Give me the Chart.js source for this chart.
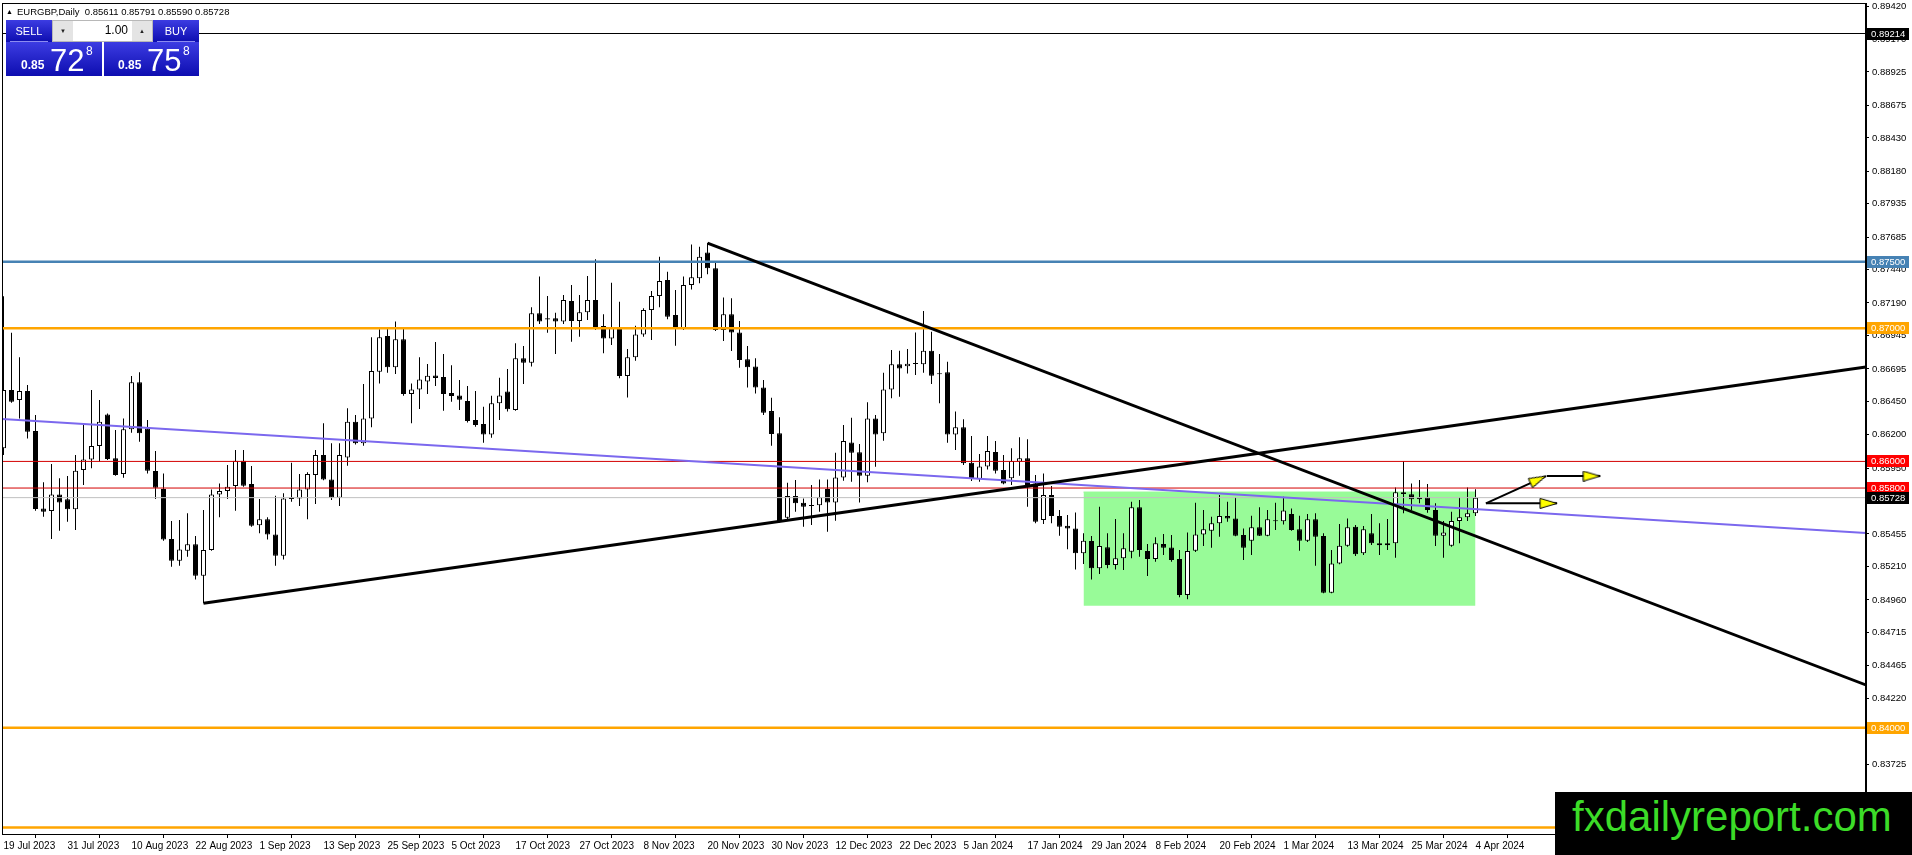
<!DOCTYPE html>
<html>
<head>
<meta charset="utf-8">
<title>EURGBP,Daily</title>
<script src="https://cdn.jsdelivr.net/npm/chart.js@4.4.1/dist/chart.umd.min.js"></script>
<style>
  html, body { margin: 0; padding: 0; background: #fff; overflow: hidden; }
  #wrap { position: relative; width: 1912px; height: 855px; font-family: "Liberation Sans", Arial, sans-serif; }
  #wrap canvas { position: absolute; left: 0; top: 0; }
  .abs { position: absolute; white-space: nowrap; line-height: 1; }
  #header { left: 6px; top: 7px; font-size: 9.5px; color: #000; }
  #header .tri { font-size: 7px; margin-right: 4px; position: relative; top: -1px; }
  .blue { position: absolute; background: linear-gradient(#3c3ce2, #0d0db0); }
  .rule { position: absolute; height: 1px; background: #8c8cf0; }
  .lbl { color: #fff; font-size: 11px; text-align: center; }
  .small { color: #fff; font-size: 12px; font-weight: bold; }
  .big { color: #fff; font-size: 31px; }
  .pip { color: #fff; font-size: 12px; }
  #spin { position: absolute; left: 52px; top: 20px; width: 99px; height: 20px; background: #fff; border: 1px solid #b8b8b8; }
  .btn { position: absolute; top: 0; width: 20px; height: 20px; background: #e4e4e4; font-size: 6px; color: #222; text-align: center; line-height: 20px; }
  #lot { right: 24px; top: 2.5px; font-size: 12px; color: #000; }
  #logo { position: absolute; left: 1555px; top: 792px; width: 357px; height: 63px; background: #000; }
  #logo span { position: absolute; left: 17px; top: 4px; font-size: 42px; line-height: 1; color: #3cdc28; white-space: nowrap; }
</style>
</head>
<body>
<div id="wrap">
  <canvas id="graficoVelas" width="1912" height="855"></canvas>
  <div id="header" class="abs"></div>
  <div id="panel">
    <div class="blue" style="left:6px;top:20px;width:46px;height:22px"></div>
    <div class="blue" style="left:153px;top:20px;width:46px;height:22px"></div>
    <div class="blue" style="left:6px;top:42px;width:96px;height:34px"></div>
    <div class="blue" style="left:104px;top:42px;width:95px;height:34px"></div>
    <div class="rule" style="left:10px;top:41px;width:38px"></div>
    <div class="rule" style="left:157px;top:41px;width:38px"></div>
    <div class="abs lbl" style="left:6px;top:25.5px;width:46px">SELL</div>
    <div class="abs lbl" style="left:153px;top:25.5px;width:46px">BUY</div>
    <div id="spin">
      <div class="btn" style="left:0">&#9660;</div>
      <div id="lot" class="abs">1.00</div>
      <div class="btn" style="right:0">&#9650;</div>
    </div>
    <div id="sellSmall" class="abs small" style="left:21px;top:58.8px"></div>
    <div id="sellBig" class="abs big" style="left:50px;top:44.8px"></div>
    <div id="sellPip" class="abs pip" style="left:86px;top:44.8px"></div>
    <div id="buySmall" class="abs small" style="left:118px;top:58.8px"></div>
    <div id="buyBig" class="abs big" style="left:147px;top:44.8px"></div>
    <div id="buyPip" class="abs pip" style="left:183px;top:44.8px"></div>
  </div>
  <div id="logo"><span>fxdailyreport.com</span></div>
</div>
<script>
// EURGBP diario, 19 Jul 2023 - 4 Apr 2024 (una vela por indice)
const symbol = "EURGBP,Daily";
const bid = 0.85728;
const ask = 0.85758;

const dateLabels = [
  "19 Jul 2023", "31 Jul 2023", "10 Aug 2023", "22 Aug 2023", "1 Sep 2023", "13 Sep 2023",
  "25 Sep 2023", "5 Oct 2023", "17 Oct 2023", "27 Oct 2023", "8 Nov 2023", "20 Nov 2023",
  "30 Nov 2023", "12 Dec 2023", "22 Dec 2023", "5 Jan 2024", "17 Jan 2024", "29 Jan 2024",
  "8 Feb 2024", "20 Feb 2024", "1 Mar 2024", "13 Mar 2024", "25 Mar 2024", "4 Apr 2024",
];
const barsPerLabel = 8;

const priceTicks = [
  0.89420, 0.89170, 0.88925, 0.88675, 0.88430, 0.88180, 0.87935, 0.87685, 0.87440,
  0.87190, 0.86945, 0.86695, 0.86450, 0.86200, 0.85950, 0.85705, 0.85455, 0.85210,
  0.84960, 0.84715, 0.84465, 0.84220, 0.83970, 0.83725, 0.83475, 0.83230,
];

const openPrices = [
  0.86098, 0.86536, 0.86461, 0.86529, 0.86228, 0.85647, 0.85627, 0.85752, 0.85715, 0.85640,
  0.85935, 0.86015, 0.86116, 0.86353, 0.86023, 0.85905, 0.86241, 0.86594, 0.86248, 0.85928,
  0.85792, 0.85417, 0.85254, 0.85329, 0.85377, 0.85142, 0.85334, 0.85752, 0.85778, 0.85815,
  0.86005, 0.85830, 0.85520, 0.85565, 0.85452, 0.85292, 0.85730, 0.85722, 0.85790, 0.85898,
  0.86048, 0.85865, 0.85727, 0.86030, 0.86298, 0.86136, 0.86323, 0.86674, 0.86942, 0.86707,
  0.86917, 0.86506, 0.86541, 0.86601, 0.86646, 0.86634, 0.86514, 0.86496, 0.86454, 0.86311,
  0.86281, 0.86203, 0.86436, 0.86526, 0.86386, 0.86774, 0.86742, 0.87112, 0.87075, 0.87075,
  0.87050, 0.87205, 0.87054, 0.87120, 0.87212, 0.87017, 0.86924, 0.87007, 0.86641, 0.86782,
  0.86954, 0.87137, 0.87242, 0.87363, 0.87100, 0.86999, 0.87325, 0.87375, 0.87570, 0.87450,
  0.86987, 0.87105, 0.86969, 0.86767, 0.86712, 0.86556, 0.86378, 0.86211, 0.85577, 0.85740,
  0.85690, 0.85670, 0.85670, 0.85793, 0.85692, 0.85880, 0.86143, 0.86068, 0.85893, 0.86323,
  0.86211, 0.86541, 0.86729, 0.86714, 0.86739, 0.86729, 0.86832, 0.86661, 0.86669, 0.86203,
  0.86256, 0.85990, 0.85868, 0.85961, 0.86071, 0.85935, 0.85873, 0.85998, 0.86023, 0.85835,
  0.85560, 0.85748, 0.85590, 0.85517, 0.85497, 0.85310, 0.85402, 0.85197, 0.85355, 0.85222,
  0.85272, 0.85322, 0.85655, 0.85327, 0.85267, 0.85380, 0.85354, 0.85267, 0.84997, 0.85329,
  0.85452, 0.85480, 0.85535, 0.85590, 0.85572, 0.85447, 0.85405, 0.85505, 0.85442, 0.85557,
  0.85550, 0.85605, 0.85490, 0.85405, 0.85565, 0.85440, 0.85014, 0.85234, 0.85367, 0.85510,
  0.85310, 0.85460, 0.85385, 0.85370, 0.85385, 0.85768, 0.85753, 0.85715, 0.85730, 0.85635,
  0.85442, 0.85367, 0.85552, 0.85580, 0.85611,
];
const highPrices = [
  0.87240, 0.86967, 0.86782, 0.86574, 0.86348, 0.85843, 0.85980, 0.85873, 0.85890, 0.86048,
  0.86273, 0.86536, 0.86461, 0.86360, 0.86236, 0.86323, 0.86641, 0.86669, 0.86311, 0.86078,
  0.85910, 0.85552, 0.85560, 0.85610, 0.85440, 0.85635, 0.85790, 0.85835, 0.85973, 0.86086,
  0.86086, 0.85965, 0.85717, 0.85580, 0.85742, 0.85760, 0.85990, 0.85905, 0.85918, 0.86086,
  0.86286, 0.86136, 0.86136, 0.86399, 0.86348, 0.86581, 0.86932, 0.86992, 0.87007, 0.87050,
  0.87007, 0.86586, 0.86782, 0.86732, 0.86897, 0.86807, 0.86722, 0.86611, 0.86566, 0.86529,
  0.86411, 0.86494, 0.86629, 0.86694, 0.86887, 0.86867, 0.87157, 0.87388, 0.87242, 0.87117,
  0.87250, 0.87325, 0.87250, 0.87392, 0.87518, 0.87105, 0.87342, 0.87200, 0.86844, 0.87019,
  0.87150, 0.87280, 0.87538, 0.87425, 0.87287, 0.87388, 0.87630, 0.87613, 0.87640, 0.87500,
  0.87232, 0.87225, 0.87054, 0.86867, 0.86774, 0.86611, 0.86479, 0.86331, 0.85840, 0.85860,
  0.85722, 0.85823, 0.85865, 0.85865, 0.86065, 0.86273, 0.86328, 0.86131, 0.86444, 0.86348,
  0.86666, 0.86837, 0.86832, 0.86844, 0.86969, 0.87130, 0.86974, 0.86807, 0.86749, 0.86374,
  0.86316, 0.86191, 0.86056, 0.86191, 0.86153, 0.86048, 0.86098, 0.86181, 0.86166, 0.85898,
  0.85910, 0.85815, 0.85635, 0.85597, 0.85617, 0.85460, 0.85440, 0.85660, 0.85460, 0.85567,
  0.85460, 0.85698, 0.85710, 0.85380, 0.85430, 0.85455, 0.85447, 0.85334, 0.85467, 0.85690,
  0.85635, 0.85585, 0.85748, 0.85698, 0.85730, 0.85497, 0.85592, 0.85655, 0.85635, 0.85690,
  0.85735, 0.85647, 0.85592, 0.85605, 0.85610, 0.85460, 0.85334, 0.85530, 0.85572, 0.85522,
  0.85515, 0.85605, 0.85535, 0.85567, 0.85805, 0.86003, 0.85835, 0.85860, 0.85830, 0.85685,
  0.85552, 0.85622, 0.85730, 0.85805, 0.85791,
];
const lowPrices = [
  0.86048, 0.86440, 0.86323, 0.86173, 0.85630, 0.85585, 0.85417, 0.85480, 0.85547, 0.85485,
  0.85823, 0.85948, 0.85998, 0.86010, 0.85893, 0.85878, 0.86216, 0.86148, 0.85910, 0.85717,
  0.85404, 0.85209, 0.85217, 0.85284, 0.85114, 0.84934, 0.85329, 0.85580, 0.85717, 0.85630,
  0.85810, 0.85510, 0.85460, 0.85414, 0.85217, 0.85264, 0.85697, 0.85665, 0.85565, 0.85680,
  0.85858, 0.85710, 0.85665, 0.85968, 0.86128, 0.86118, 0.86256, 0.86586, 0.86666, 0.86656,
  0.86494, 0.86286, 0.86394, 0.86506, 0.86566, 0.86381, 0.86449, 0.86386, 0.86293, 0.86261,
  0.86141, 0.86178, 0.86311, 0.86374, 0.86381, 0.86581, 0.86712, 0.87032, 0.86967, 0.86807,
  0.87032, 0.86899, 0.86937, 0.87062, 0.86987, 0.86812, 0.86874, 0.86624, 0.86481, 0.86757,
  0.86937, 0.86912, 0.87157, 0.87067, 0.86869, 0.86987, 0.87292, 0.87338, 0.87405, 0.86980,
  0.86904, 0.86829, 0.86704, 0.86556, 0.86511, 0.86348, 0.86118, 0.85542, 0.85567, 0.85622,
  0.85510, 0.85522, 0.85622, 0.85472, 0.85555, 0.85855, 0.85848, 0.85692, 0.85843, 0.85960,
  0.86156, 0.86474, 0.86486, 0.86661, 0.86649, 0.86666, 0.86581, 0.86436, 0.86141, 0.86086,
  0.85973, 0.85853, 0.85848, 0.85940, 0.85910, 0.85828, 0.85823, 0.85893, 0.85660, 0.85535,
  0.85530, 0.85535, 0.85442, 0.85340, 0.85189, 0.85229, 0.85114, 0.85154, 0.85197, 0.85189,
  0.85184, 0.85272, 0.85284, 0.85139, 0.85247, 0.85297, 0.85247, 0.84979, 0.84964, 0.85320,
  0.85365, 0.85352, 0.85435, 0.85547, 0.85438, 0.85259, 0.85297, 0.85440, 0.85438, 0.85485,
  0.85527, 0.85480, 0.85329, 0.85395, 0.85217, 0.85009, 0.85009, 0.85227, 0.85360, 0.85289,
  0.85297, 0.85372, 0.85297, 0.85334, 0.85277, 0.85610, 0.85635, 0.85685, 0.85615, 0.85365,
  0.85277, 0.85360, 0.85385, 0.85552, 0.85590,
];
const closePrices = [
  0.86536, 0.86449, 0.86529, 0.86223, 0.85642, 0.85622, 0.85752, 0.85692, 0.85640, 0.85930,
  0.86015, 0.86116, 0.86298, 0.86018, 0.85898, 0.86241, 0.86594, 0.86211, 0.85930, 0.85803,
  0.85414, 0.85254, 0.85339, 0.85377, 0.85142, 0.85334, 0.85752, 0.85778, 0.85810, 0.86005,
  0.85818, 0.85517, 0.85565, 0.85452, 0.85292, 0.85722, 0.85717, 0.85790, 0.85905, 0.86048,
  0.85865, 0.85727, 0.86048, 0.86298, 0.86136, 0.86323, 0.86679, 0.86932, 0.86707, 0.86917,
  0.86506, 0.86541, 0.86616, 0.86644, 0.86626, 0.86506, 0.86491, 0.86464, 0.86303, 0.86273,
  0.86203, 0.86436, 0.86496, 0.86391, 0.86774, 0.86742, 0.87112, 0.87050, 0.87065, 0.87050,
  0.87212, 0.87054, 0.87120, 0.87212, 0.86999, 0.86924, 0.87007, 0.86641, 0.86782, 0.86954,
  0.87137, 0.87242, 0.87355, 0.87087, 0.86999, 0.87325, 0.87383, 0.87538, 0.87450, 0.86987,
  0.87105, 0.86969, 0.86762, 0.86707, 0.86556, 0.86366, 0.86206, 0.85552, 0.85740, 0.85685,
  0.85660, 0.85665, 0.85730, 0.85692, 0.85880, 0.86153, 0.86065, 0.85893, 0.86323, 0.86203,
  0.86541, 0.86729, 0.86697, 0.86734, 0.86731, 0.86832, 0.86644, 0.86654, 0.86203, 0.86256,
  0.85986, 0.85868, 0.85961, 0.86078, 0.85930, 0.85835, 0.86003, 0.86023, 0.85805, 0.85547,
  0.85748, 0.85590, 0.85510, 0.85497, 0.85310, 0.85405, 0.85197, 0.85365, 0.85222, 0.85272,
  0.85347, 0.85655, 0.85334, 0.85267, 0.85385, 0.85352, 0.85259, 0.84997, 0.85327, 0.85452,
  0.85490, 0.85535, 0.85590, 0.85572, 0.85442, 0.85352, 0.85505, 0.85442, 0.85565, 0.85550,
  0.85632, 0.85485, 0.85405, 0.85565, 0.85435, 0.85014, 0.85234, 0.85367, 0.85505, 0.85302,
  0.85490, 0.85385, 0.85370, 0.85385, 0.85768, 0.85755, 0.85715, 0.85730, 0.85635, 0.85442,
  0.85467, 0.85552, 0.85580, 0.85610, 0.85728,
];

// niveles horizontales
const levelPrices = [0.89214, 0.87500, 0.87000, 0.86000, 0.85800, 0.85728, 0.84000, 0.83250];
// lineas de tendencia: [indice de vela, precio]
const trendDown = [[88, 0.87640], [232.8, 0.84321]];
const trendUp = [[25, 0.84934], [232.8, 0.86709]];
const channelLine = [[-0.19, 0.86319], [232.8, 0.85462]];
// rango lateral (rectangulo verde)
const rangeBars = [135, 184];
const rangePrices = [0.84916, 0.85770];
// flechas amarillas
const arrowFlat = [[185.3, 0.85685], [194.2, 0.85685]];
const arrowUp = [[185.3, 0.85685], [192.8, 0.85890]];
const arrowFlatHigh = [[192.9, 0.85890], [199.6, 0.85890]];

const xMin = -0.1875;
const xMax = 232.8125;
const yMin = 0.832016;
const yMax = 0.894431;

const levelStyles = [
  { color: "#000000", width: 1, tag: "#000000" },
  { color: "#4682b4", width: 2.5, tag: "#4682b4" },
  { color: "#ffa500", width: 2.5, tag: "#ffa500" },
  { color: "#d40000", width: 1, tag: "#ff0000" },
  { color: "#d40000", width: 1, tag: "#ff0000" },
  { color: "#c0c0c0", width: 1, tag: "#000000" },
  { color: "#ffa500", width: 2.5, tag: "#ffa500" },
  { color: "#ffa500", width: 2.5, tag: null },
];

// ---- textos fuera del canvas ----
const last = closePrices.length - 1;
document.getElementById("header").innerHTML =
  '<span class="tri">&#9650;</span>' + symbol + "&nbsp; " +
  [openPrices[last], highPrices[last], lowPrices[last], closePrices[last]].map((v) => v.toFixed(5)).join(" ");
const bidTxt = bid.toFixed(5);
const askTxt = ask.toFixed(5);
document.getElementById("sellSmall").textContent = bidTxt.slice(0, 4);
document.getElementById("sellBig").textContent = bidTxt.slice(4, 6);
document.getElementById("sellPip").textContent = bidTxt.slice(6);
document.getElementById("buySmall").textContent = askTxt.slice(0, 4);
document.getElementById("buyBig").textContent = askTxt.slice(4, 6);
document.getElementById("buyPip").textContent = askTxt.slice(6);

// ---- datasets ----
const wicks = lowPrices.map((l, i) => ({ x: i, y: [l, highPrices[i]] }));
const bodies = openPrices.map((o, i) => ({ x: i, y: [o, closePrices[i]] }));
const bodyColors = openPrices.map((o, i) => (closePrices[i] >= o ? "#ffffff" : "#000000"));
const toXY = (pts) => pts.map(([x, y]) => ({ x: x, y: y }));

function makeArrowHead() {
  const c = document.createElement("canvas");
  c.width = 36;
  c.height = 11;
  const g = c.getContext("2d");
  g.beginPath();
  g.moveTo(1, 0.5);
  g.lineTo(18, 5.5);
  g.lineTo(1, 10.5);
  g.closePath();
  g.fillStyle = "#ffff00";
  g.fill();
  g.strokeStyle = "#000";
  g.lineWidth = 1;
  g.stroke();
  return c;
}
const arrowHead = makeArrowHead();

function arrowAngle(ctx) {
  const d = ctx.dataset.data;
  const xs = ctx.chart.scales.x;
  const ys = ctx.chart.scales.y;
  const a = d[0], b = d[d.length - 1];
  return (Math.atan2(ys.getPixelForValue(b.y) - ys.getPixelForValue(a.y),
    xs.getPixelForValue(b.x) - xs.getPixelForValue(a.x)) * 180) / Math.PI;
}

function lineDataset(pts, color, width, order) {
  return {
    type: "line",
    data: toXY(pts),
    borderColor: color,
    borderWidth: width,
    pointRadius: 0,
    tension: 0,
    fill: false,
    order: order,
  };
}

function arrowDataset(pts) {
  return {
    type: "line",
    data: toXY(pts),
    borderColor: "#000",
    borderWidth: 2,
    tension: 0,
    fill: false,
    pointStyle: arrowHead,
    pointRadius: (ctx) => (ctx.dataIndex === 1 ? 5 : 0),
    pointRotation: arrowAngle,
    order: 0,
  };
}

const levelDatasets = levelPrices.map((p, i) =>
  lineDataset([[xMin, p], [xMax, p]], levelStyles[i].color, levelStyles[i].width, 3)
);

const priceTags = levelPrices
  .map((p, i) => [p, levelStyles[i].tag])
  .filter(([, tag]) => tag);

const mt4Plugin = {
  id: "mt4",
  afterDraw(chart) {
    const { ctx, chartArea: a, scales: { y } } = chart;
    ctx.save();
    ctx.strokeStyle = "#000";
    ctx.lineWidth = 1;
    ctx.strokeRect(a.left + 0.5, a.top + 0.5, a.right - a.left - 1, a.bottom - a.top);
    ctx.font = "9.5px 'Liberation Sans', Arial, sans-serif";
    ctx.textBaseline = "middle";
    priceTags.forEach(([value, color]) => {
      const py = Math.round(y.getPixelForValue(value));
      ctx.fillStyle = color;
      ctx.fillRect(a.right + 1, py - 6, 42, 12);
      ctx.fillStyle = "#ffffff";
      ctx.fillText(value.toFixed(5), a.right + 5, py + 0.5);
    });
    ctx.restore();
  },
};

Chart.defaults.font.family = "'Liberation Sans', Arial, sans-serif";
Chart.defaults.color = "#000";

new Chart(document.getElementById("graficoVelas").getContext("2d"), {
  type: "bar",
  data: {
    datasets: [
      {
        type: "line",
        data: toXY([[rangeBars[0], rangePrices[1]], [rangeBars[1], rangePrices[1]]]),
        borderColor: "#98fb98",
        borderWidth: 1,
        backgroundColor: "#98fb98",
        fill: { value: rangePrices[0] },
        pointRadius: 0,
        order: 20,
      },
      {
        data: wicks,
        backgroundColor: "#000",
        borderWidth: 0,
        barThickness: 1,
        grouped: false,
        inflateAmount: 0,
        order: 12,
      },
      {
        data: bodies,
        backgroundColor: bodyColors,
        borderColor: "#000",
        borderWidth: 1,
        borderSkipped: false,
        barThickness: 5,
        minBarLength: 1,
        grouped: false,
        inflateAmount: 0,
        order: 11,
      },
      ...levelDatasets,
      lineDataset(channelLine, "#7b68ee", 2, 2),
      lineDataset(trendUp, "#000", 3, 1),
      lineDataset(trendDown, "#000", 3, 1),
      arrowDataset(arrowFlat),
      arrowDataset(arrowUp),
      arrowDataset(arrowFlatHigh),
    ],
  },
  options: {
    responsive: false,
    animation: false,
    events: [],
    layout: { autoPadding: false, padding: { left: 2, top: 3, right: 0, bottom: 0 } },
    plugins: { legend: { display: false }, tooltip: { enabled: false } },
    scales: {
      x: {
        type: "linear",
        min: xMin,
        max: xMax,
        offset: false,
        grid: { drawOnChartArea: false, tickLength: 4, color: "#000" },
        border: { display: true, color: "#000" },
        ticks: {
          autoSkip: false,
          maxRotation: 0,
          align: "start",
          padding: 2,
          font: { size: 10 },
          callback: (value, index) => dateLabels[index],
        },
        afterBuildTicks: (scale) => {
          scale.ticks = dateLabels.map((_, i) => ({ value: i * barsPerLabel }));
        },
        afterFit: (scale) => {
          scale.height = 21;
          scale.paddingLeft = 0;
          scale.paddingRight = 0;
        },
      },
      y: {
        type: "linear",
        position: "right",
        min: yMin,
        max: yMax,
        grid: { drawOnChartArea: false, tickLength: 3, color: "#000" },
        border: { display: true, color: "#000" },
        ticks: {
          autoSkip: false,
          padding: 3,
          font: { size: 9.5 },
          callback: (value) => value.toFixed(5),
        },
        afterBuildTicks: (scale) => {
          scale.ticks = priceTicks.map((v) => ({ value: v }));
        },
        afterFit: (scale) => {
          scale.width = 46;
          scale.paddingTop = 0;
          scale.paddingBottom = 0;
        },
      },
    },
  },
  plugins: [mt4Plugin],
});
</script>
</body>
</html>
